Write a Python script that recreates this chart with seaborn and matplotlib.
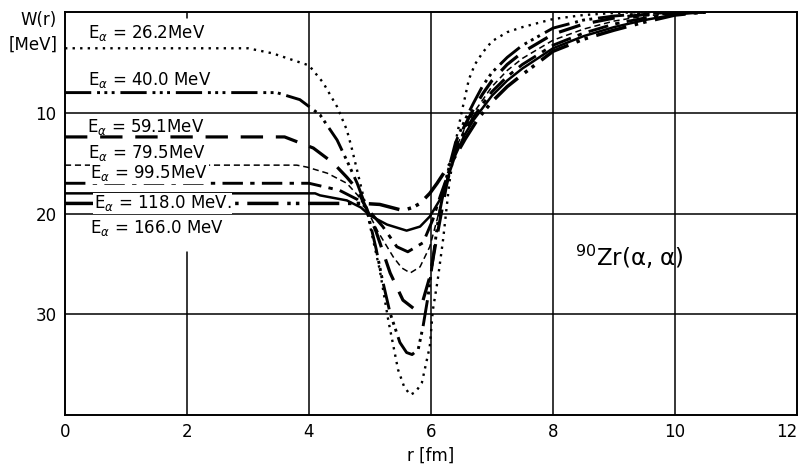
"""
Imaginary potential W(r) for 90Zr(alpha, alpha) at several beam energies.
"""

import matplotlib

matplotlib.use("Agg")
import matplotlib.pyplot as plt
import pandas as pd
import seaborn as sns

# beam energies (MeV) and their labels
energies = ["26.2", "40.0", "59.1", "79.5", "99.5", "118.0", "166.0"]
label_text = [
    r"E$_{\alpha}$ = 26.2MeV",
    r"E$_{\alpha}$ = 40.0 MeV",
    r"E$_{\alpha}$ = 59.1MeV",
    r"E$_{\alpha}$ = 79.5MeV",
    r"E$_{\alpha}$ = 99.5MeV",
    r"E$_{\alpha}$ = 118.0 MeV.",
    r"E$_{\alpha}$ = 166.0 MeV",
]
# labels that sit on top of a curve get a white backing
label_masked = [False, False, False, False, True, True, False]

# curves: r [fm], W [MeV]
r_262 = [0, 3.0, 3.4, 4.0, 4.23, 4.46, 4.62, 4.7, 4.8, 4.95, 5.05, 5.16, 5.3, 5.46,
         5.56, 5.66, 5.75, 5.85, 5.98, 6.03, 6.11, 6.2, 6.3, 6.4, 6.5, 6.56, 6.62,
         6.72, 6.85, 7.0, 7.25, 7.5, 8.0, 8.5, 9.0, 9.5, 10.5]
w_262 = [3.6, 3.6, 4.1, 5.3, 7.0, 9.4, 11.7, 13.5, 16.0, 19.8, 22.6, 25.6, 30.6, 35.5,
         37.2, 38.0, 37.7, 36.8, 33.2, 29.6, 26.6, 22.5, 17.0, 13.0, 10.0, 8.4, 6.7,
         5.2, 4.0, 2.9, 2.0, 1.5, 0.7, 0.3, 0.1, 0.0, 0.0]

r_400 = [0, 3.47, 3.85, 4.18, 4.46, 4.64, 4.79, 4.95, 5.1, 5.2, 5.33, 5.49, 5.6, 5.69,
         5.79, 5.87, 5.95, 6.03, 6.12, 6.25, 6.4, 6.55, 6.7, 6.85, 7.0, 7.25, 7.5,
         8.0, 8.5, 9.0, 9.5, 10.0, 10.5]
w_400 = [8.0, 8.0, 8.7, 10.2, 12.7, 15.0, 17.0, 19.6, 23.5, 26.5, 29.9, 32.8, 33.8, 34.0,
         33.5, 31.2, 28.3, 24.6, 20.5, 16.5, 13.0, 10.8, 9.0, 7.3, 6.0, 4.5, 3.3,
         1.6, 0.8, 0.4, 0.15, 0.05, 0.0]

r_591 = [0, 3.6, 4.07, 4.4, 4.62, 4.79, 4.95, 5.1, 5.33, 5.54, 5.71, 5.87, 5.98, 6.1,
         6.25, 6.4, 6.55, 6.7, 6.85, 7.0, 7.25, 7.5, 8.0, 8.5, 9.0, 9.5, 10.0, 10.5]
w_591 = [12.4, 12.4, 13.5, 15.0, 16.4, 17.6, 19.6, 21.8, 25.9, 28.6, 29.4, 28.6, 26.3, 22.2,
         17.3, 13.4, 11.3, 9.6, 8.1, 6.8, 5.2, 4.0, 2.2, 1.2, 0.6, 0.25, 0.08, 0.0]

r_795 = [0, 3.8, 3.97, 4.3, 4.62, 4.8, 4.95, 5.13, 5.38, 5.52, 5.66, 5.82, 5.98, 6.1,
         6.25, 6.4, 6.55, 6.7, 6.85, 7.0, 7.25, 7.5, 8.0, 8.5, 9.0, 9.5, 10.0, 10.5]
w_795 = [15.2, 15.2, 15.4, 16.0, 17.0, 18.2, 19.6, 21.8, 24.3, 25.4, 25.9, 25.3, 23.3, 20.6,
         16.9, 13.6, 11.6, 10.0, 8.7, 7.4, 5.8, 4.6, 2.8, 1.7, 0.9, 0.4, 0.12, 0.0]

r_995 = [0, 4.0, 4.5, 4.79, 4.95, 5.21, 5.44, 5.62, 5.87, 6.03, 6.15, 6.25, 6.4, 6.55,
         6.7, 6.85, 7.0, 7.25, 7.5, 8.0, 8.5, 9.0, 9.5, 10.0, 10.5]
w_995 = [17.0, 17.0, 17.7, 18.6, 19.5, 21.3, 23.3, 23.8, 22.9, 20.6, 18.3, 16.6, 13.8, 11.9,
         10.4, 9.1, 7.9, 6.4, 5.2, 3.3, 2.1, 1.2, 0.6, 0.2, 0.0]

r_1180 = [0, 4.1, 4.18, 4.62, 4.85, 5.0, 5.28, 5.6, 5.82, 5.98, 6.15, 6.25, 6.4, 6.55,
          6.7, 6.85, 7.0, 7.25, 7.5, 8.0, 8.5, 9.0, 9.5, 10.0, 10.5]
w_1180 = [18.0, 18.0, 18.2, 18.7, 19.4, 20.2, 21.1, 21.7, 21.3, 20.3, 18.6, 16.9, 14.2, 12.2,
          10.7, 9.5, 8.3, 6.8, 5.6, 3.6, 2.4, 1.5, 0.8, 0.25, 0.0]

r_1660 = [0, 4.5, 4.89, 5.16, 5.35, 5.54, 5.7, 5.82, 5.98, 6.1, 6.23, 6.4, 6.56, 6.77,
          7.0, 7.25, 7.5, 8.0, 8.5, 9.0, 9.5, 10.0, 10.5]
w_1660 = [19.0, 19.0, 19.0, 19.1, 19.4, 19.7, 19.4, 19.0, 18.0, 17.0, 15.8, 14.3, 12.6, 10.6,
          8.9, 7.4, 6.2, 3.9, 2.7, 1.8, 1.0, 0.3, 0.0]

r_curves = [r_262, r_400, r_591, r_795, r_995, r_1180, r_1660]
w_curves = [w_262, w_400, w_591, w_795, w_995, w_1180, w_1660]

# line styles (dash pattern, width) per energy
styles = [
    ((0, (1.0, 2.2)), 1.7),
    ((0, (9, 2, 1, 1.5, 1, 1.5, 1, 2)), 2.1),
    ((0, (7, 4)), 2.3),
    ((0, (4, 2.5)), 1.1),
    ((0, (7, 2.5, 1.5, 2.5)), 2.1),
    ("-", 1.8),
    ((0, (9, 2.5, 1, 1.5, 1, 2.5)), 2.5),
]

# label anchor positions (r, W)
label_pos = [(0.38, 2.1), (0.38, 6.75), (0.36, 11.4), (0.38, 14.0),
             (0.41, 16.0), (0.47, 19.0), (0.41, 21.4)]

frames = []
for e, r, w in zip(energies, r_curves, w_curves):
    frames.append(pd.DataFrame({"r": r, "W": w, "E": e}))
df = pd.concat(frames, ignore_index=True)

sns.set_style("white")
plt.rcParams["font.family"] = ["DejaVu Sans"]
plt.rcParams["mathtext.fontset"] = "dejavusans"
plt.rcParams["text.color"] = "black"
plt.rcParams["axes.labelcolor"] = "black"
plt.rcParams["xtick.color"] = "black"
plt.rcParams["ytick.color"] = "black"

fig = plt.figure(figsize=(8.04, 4.69), dpi=100)
ax = fig.add_axes([65 / 804, 1 - 415 / 469, 732 / 804, 403 / 469])

for (ls, lw), e in zip(styles, energies):
    sub = df[df["E"] == e]
    sns.lineplot(data=sub, x="r", y="W", ax=ax, color="black", linewidth=lw,
                 linestyle=ls, estimator=None, sort=False, legend=False)

# grid lines like the original drawing
for xv in [4, 6, 8, 10]:
    ax.axvline(xv, color="black", lw=1.1, zorder=0)
ax.axvline(2, ymin=0, ymax=(40 - 23.8) / 40, color="black", lw=1.1, zorder=0)
ax.axvline(2, ymin=1 - 0.6 / 40, ymax=1, color="black", lw=1.1, zorder=0)
for yv in [10, 20, 30]:
    ax.axhline(yv, color="black", lw=1.1, zorder=0)

for txt, (lx, ly), masked in zip(label_text, label_pos, label_masked):
    box = dict(boxstyle="square,pad=0.03", fc="white", ec="none") if masked else None
    ax.text(lx, ly, txt, fontsize=12, va="center", ha="left", zorder=5, bbox=box)

ax.text(8.36, 24.3, r"$^{90}$Zr(α, α)", fontsize=16.5, va="center", ha="left")

ax.set_xlim(0, 12)
ax.set_ylim(40, 0)
ax.set_xticks(range(0, 13, 2))
ax.set_yticks([10, 20, 30])
ax.tick_params(axis="both", length=0, labelsize=12, pad=6)
ax.get_xticklabels()[-1].set_horizontalalignment("right")
ax.set_xlabel("r [fm]", fontsize=12, labelpad=4)
ax.set_ylabel("")
for sp in ax.spines.values():
    sp.set_color("black")
    sp.set_linewidth(1.4)

fig.text(57 / 804, 1 - 20 / 469, "W(r)", fontsize=12, ha="right", va="center")
fig.text(58 / 804, 1 - 45 / 469, "[MeV]", fontsize=12, ha="right", va="center")

fig.savefig("out.png", dpi=100)
